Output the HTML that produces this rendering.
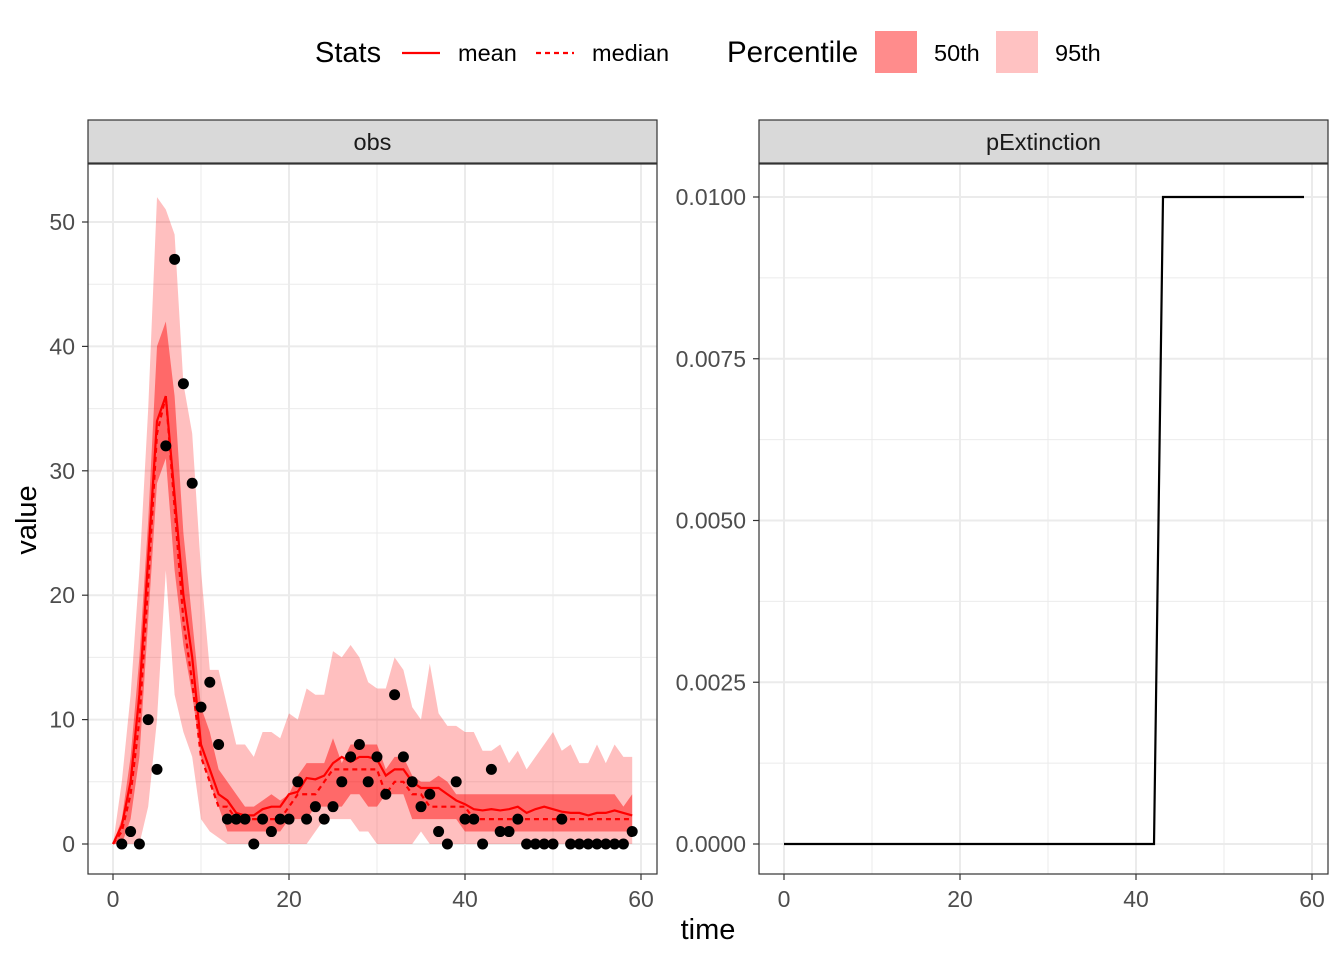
<!DOCTYPE html><html><head><meta charset="utf-8"><style>body{margin:0;background:#fff}svg{font-family:"Liberation Sans",sans-serif}</style></head><body>
<svg id="s" width="1344" height="960" xmlns="http://www.w3.org/2000/svg"></svg>
<script>
const S=document.getElementById('s');let h='';
const X=t=>113+t*8.8, Y=v=>844-v*12.44;
const up95=[0,5,12,22,35,52,51,49,37,33,22,14,14,11,8,8,7,9,9,8.5,10.5,10,12.5,12,12,15.5,15,16,15,13,12.5,12.5,15,14,11,10,14.5,10.5,9.5,9.5,9,9,7.5,7.5,8,6.5,7.5,6,7,8,9,7.5,8,6.5,6.5,8,6.5,8,7,7];
const lo95=[0,0,0,0,3,10,22,12,9,7,2,1,0.5,0,0,0,0,0,0,0,0,0,0,1,2,2,2,2,1,1,0,0,0,0,0,1,0,0,0,0,0,0,0,0,0,0,0,0,0,0,0,0,0,0,0,0,0,0,0,0];
const up50=[0,2,7,15,26,40,42,36,25,18,11,9,6,5,4,3,3,3.5,4,3.5,4,5.5,6.5,6.5,6.5,8.5,6.5,8,8,8,8,6,7,7,5.5,5,5,5.5,5,4,4,4,4,4,4,4,4,4,4,4,4,4,4,4,4,4,4,4,3,4];
const lo50=[0,0,2,7,18,29,31,22,16,12,7,5,3,1,1,1,1,1,1,1,2,2,2,3,3,3,3,4,4,3,3,4,4,4,2,2,2,2,2,2,1,1,1,1,1,1,1,1,1,1,1,1,1,1,1,1,1,1,1,1];
const mean=[0,1.5,5,12,23,34,36,28,20,15,8,6,4,3.5,2.5,2.3,2.3,2.8,3,3,4,4.2,5.3,5.2,5.5,6.5,7,6.6,7,7,6.8,5.5,6,6,5,4.5,4.5,4.5,4,3.5,3.2,2.8,2.7,2.8,2.7,2.8,3,2.5,2.8,3,2.8,2.6,2.5,2.5,2.3,2.5,2.5,2.7,2.5,2.3];
const med=[0,1,4,10,21,33,36,27,18,13,7,5,3,3,2,2,2,2,2,2,3,4,4,4,5,6,6,6,6,6,6,4,5,5,4,4,3,3,3,3,3,2,2,2,2,2,2,2,2,2,2,2,2,2,2,2,2,2,2,2];
const obs=[null,0,1,0,10,6,32,47,37,29,11,13,8,2,2,2,0,2,1,2,2,5,2,3,2,3,5,7,8,5,7,4,12,7,5,3,4,1,0,5,2,2,0,6,1,1,2,0,0,0,0,2,0,0,0,0,0,0,0,1];
function rib(u,l,c){let p=u.map((v,i)=>X(i)+','+Y(v));for(let i=l.length-1;i>=0;i--)p.push(X(i)+','+Y(l[i]));return `<polygon points="${p.join(' ')}" fill="${c}"/>`;}
function line(a,extra){return `<polyline points="${a.map((v,i)=>X(i)+','+Y(v)).join(' ')}" fill="none" stroke="#f00" stroke-width="2.2" ${extra||''}/>`;}
h+=`<text x="315" y="62" font-size="29">Stats</text><line x1="402" y1="53" x2="440" y2="53" stroke="#f00" stroke-width="2.2"/><text x="458" y="61" font-size="23.5">mean</text>
<line x1="536" y1="53" x2="574" y2="53" stroke="#f00" stroke-width="2.2" stroke-dasharray="5,4"/><text x="592" y="61" font-size="23.5">median</text>
<text x="727" y="62" font-size="29.5">Percentile</text><rect x="875" y="31" width="42" height="42" fill="#ff8c8c"/><text x="934" y="61" font-size="23.5">50th</text>
<rect x="996" y="31" width="42" height="42" fill="#ffc2c2"/><text x="1055" y="61" font-size="23.5">95th</text>`;
function panel(x0,title,yt,xz){
 h+=`<rect x="${x0}" y="120" width="569" height="43" fill="#d9d9d9" stroke="#333" stroke-width="1.2"/><text x="${x0+284.5}" y="150" font-size="23.5" text-anchor="middle" fill="#1a1a1a">${title}</text>`;
 h+=`<rect x="${x0}" y="164" width="569" height="710" fill="#fff"/>`;
 for(let t=10;t<=60;t+=20)h+=`<line x1="${xz+t*8.8}" y1="164" x2="${xz+t*8.8}" y2="874" stroke="#ebebeb" stroke-width="1"/>`;
 for(let t=0;t<=60;t+=20)h+=`<line x1="${xz+t*8.8}" y1="164" x2="${xz+t*8.8}" y2="874" stroke="#ebebeb" stroke-width="2"/>`;
 yt.forEach(([y,lab,minor])=>{h+=`<line x1="${x0}" y1="${y}" x2="${x0+569}" y2="${y}" stroke="#ebebeb" stroke-width="${minor?1:2}"/>`;if(!minor)h+=`<line x1="${x0-6}" y1="${y}" x2="${x0}" y2="${y}" stroke="#333" stroke-width="1.2"/><text x="${x0-13}" y="${y+8}" font-size="23" fill="#4d4d4d" text-anchor="end">${lab}</text>`;});
 for(let t=0;t<=60;t+=20)h+=`<line x1="${xz+t*8.8}" y1="874" x2="${xz+t*8.8}" y2="880" stroke="#333" stroke-width="1.2"/><text x="${xz+t*8.8}" y="907" font-size="23" fill="#4d4d4d" text-anchor="middle">${t}</text>`;
}
let yl=[];for(let v=0;v<=50;v+=5)yl.push([Y(v),v,v%10!=0]);
panel(88,'obs',yl,113);
let yr=[];for(let k=0;k<=8;k++)yr.push([844-k*80.875,(k*0.00125).toFixed(4),k%2==1]);
panel(759,'pExtinction',yr,784);
h+=rib(up95,lo95,'rgba(255,0,0,0.25)')+rib(up50,lo50,'rgba(255,0,0,0.45)');
h+=line(mean)+line(med,'stroke-dasharray="5,4"');
obs.forEach((v,i)=>{if(v!==null)h+=`<circle cx="${X(i)}" cy="${Y(v)}" r="5.5" fill="#000"/>`;});
h+=`<rect x="88" y="164" width="569" height="710" fill="none" stroke="#333" stroke-width="1.2"/><rect x="759" y="164" width="569" height="710" fill="none" stroke="#333" stroke-width="1.2"/>`;
h+=`<polyline points="784,844 1154,844 1163,197 1304,197" fill="none" stroke="#000" stroke-width="2.2"/>`;
h+=`<text x="708" y="939" font-size="29" text-anchor="middle">time</text><text transform="translate(36,520) rotate(-90)" font-size="29" text-anchor="middle">value</text>`;
S.innerHTML=h;
</script></body></html>
